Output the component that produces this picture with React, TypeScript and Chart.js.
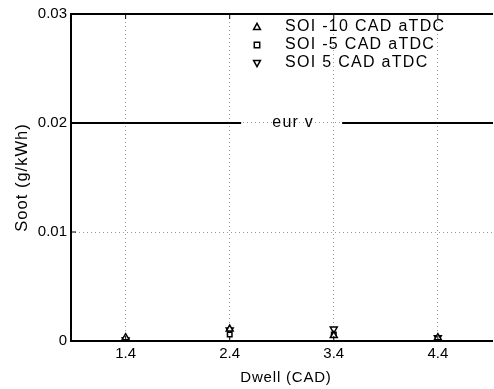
import React, { useEffect, useRef } from "react";
import { Chart, registerables } from "chart.js";

Chart.register(...registerables);

const dwell = [1.4, 2.4, 3.4, 4.4];
const soiMinus10 = [0.0003, 0.0011, 0.0005, 0.0003];
const soiMinus5 = [0.0001, 0.0006, 0.0006, 0.0002];
const soiPlus5 = [0.0001, 0.001, 0.0011, 0.0003];
const seriesLabels = ["SOI -10 CAD aTDC", "SOI -5 CAD aTDC", "SOI 5 CAD aTDC"];
const xTicks = [1.4, 2.4, 3.4, 4.4];
const yTicks = [0, 0.01, 0.02, 0.03];
const yTickLabels = ["0", "0.01", "0.02", "0.03"];
const xTitle = "Dwell (CAD)";
const yTitle = "Soot (g/kWh)";
const euroLimit = 0.02;
const euroLabel = "eur v";
const euroLabelAt = 3.0;

const FONT = "'Liberation Sans', Arial, sans-serif";

function drawMarker(ctx: CanvasRenderingContext2D, style: string, rot: number, x: number, y: number, r: number) {
  ctx.save();
  ctx.translate(x, y);
  ctx.rotate((rot * Math.PI) / 180);
  ctx.beginPath();
  if (style === "rect") {
    const h = r * 0.75;
    ctx.rect(-h, -h, 2 * h, 2 * h);
  } else {
    ctx.moveTo(0, -r);
    ctx.lineTo(r * 0.95, r * 0.7);
    ctx.lineTo(-r * 0.95, r * 0.7);
    ctx.closePath();
  }
  ctx.fill();
  ctx.stroke();
  ctx.restore();
}

const areaPlugin = {
  id: "area",
  afterLayout(chart: any) {
    const x = chart.scales.x;
    x.right = 493;
    x.width = x.right - x.left;
    x.configure();
    chart.chartArea.right = 493;
    chart.chartArea.width = 493 - chart.chartArea.left;
  },
};

const framePlugin = {
  id: "frame",
  afterDatasetsDraw(chart: any) {
    const { ctx, chartArea: a, scales } = chart;
    const xs = scales.x;
    const ys = scales.y;
    ctx.save();
    // euro limit line with gap for label
    const yp = ys.getPixelForValue(euroLimit);
    const cx = xs.getPixelForValue(euroLabelAt);
    ctx.strokeStyle = "#000";
    ctx.lineWidth = 2;
    ctx.beginPath();
    ctx.moveTo(a.left, yp);
    ctx.lineTo(cx - 51, yp);
    ctx.moveTo(cx + 50, yp);
    ctx.lineTo(a.right, yp);
    ctx.stroke();
    ctx.fillStyle = "#000";
    ctx.font = `16px ${FONT}`;
    (ctx as any).letterSpacing = "1.2px";
    ctx.textAlign = "center";
    ctx.textBaseline = "middle";
    ctx.fillText(euroLabel, cx + 1, yp);

    // axis titles
    ctx.font = `15px ${FONT}`;
    (ctx as any).letterSpacing = "0.8px";
    ctx.fillText(xTitle, 286, 378);
    ctx.save();
    ctx.translate(22, (a.top + a.bottom) / 2);
    ctx.rotate(-Math.PI / 2);
    ctx.font = `16.5px ${FONT}`;
    (ctx as any).letterSpacing = "1px";
    ctx.fillText(yTitle, 0, 0);
    ctx.restore();

    // inward ticks
    ctx.lineWidth = 1;
    ctx.beginPath();
    xTicks.forEach((v) => {
      const px = xs.getPixelForValue(v);
      ctx.moveTo(px, a.top);
      ctx.lineTo(px, a.top + 5);
      ctx.moveTo(px, a.bottom);
      ctx.lineTo(px, a.bottom - 5);
    });
    yTicks.forEach((v) => {
      const py = ys.getPixelForValue(v);
      ctx.moveTo(a.left, py);
      ctx.lineTo(a.left + 5, py);
    });
    ctx.stroke();

    // frame
    ctx.lineWidth = 2;
    ctx.beginPath();
    ctx.moveTo(a.right, a.top);
    ctx.lineTo(a.left, a.top);
    ctx.lineTo(a.left, a.bottom);
    ctx.lineTo(a.right, a.bottom);
    ctx.stroke();

    // legend
    const styles = [
      { s: "triangle", r: 0 },
      { s: "rect", r: 0 },
      { s: "triangle", r: 180 },
    ];
    ctx.font = `16px ${FONT}`;
    (ctx as any).letterSpacing = "1.3px";
    ctx.textAlign = "left";
    ctx.textBaseline = "middle";
    seriesLabels.forEach((lab, i) => {
      const y = 27 + i * 18;
      ctx.fillStyle = "#fff";
      ctx.strokeStyle = "#000";
      ctx.lineWidth = 1.5;
      drawMarker(ctx, styles[i].s, styles[i].r, 257, y, 3.6);
      ctx.fillStyle = "#000";
      ctx.fillText(lab, 285, y);
    });
    (ctx as any).letterSpacing = "0px";
    ctx.restore();
  },
};

export default function App() {
  const ref = useRef<HTMLCanvasElement>(null);
  useEffect(() => {
    document.body.style.margin = "0";
    const mk = (vals: number[]) => dwell.map((x, i) => ({ x, y: vals[i] }));
    const common = {
      borderColor: "#000",
      backgroundColor: "#fff",
      borderWidth: 1.5,
      pointRadius: 4,
      showLine: false,
    };
    const chart = new Chart(ref.current!, {
      type: "scatter",
      data: {
        datasets: [
          { ...common, label: seriesLabels[0], data: mk(soiMinus10), pointStyle: "triangle" },
          { ...common, label: seriesLabels[1], data: mk(soiMinus5), pointStyle: "rect", pointRadius: 3.2 },
          { ...common, label: seriesLabels[2], data: mk(soiPlus5), pointStyle: "triangle", rotation: 180 },
        ],
      },
      options: {
        animation: false,
        responsive: false,
        layout: { padding: { top: 14, right: 1, left: 0, bottom: 0 } },
        plugins: { legend: { display: false }, tooltip: { enabled: false } },
        scales: {
          x: {
            type: "linear",
            min: 0.875,
            max: 4.93,
            afterBuildTicks: (s: any) => {
              s.ticks = xTicks.map((v) => ({ value: v }));
            },
            afterFit: (s: any) => {
              s.height = 48;
            },
            ticks: {
              color: "#000",
              font: { family: FONT, size: 15 },
              padding: 4,
              callback: (v: any) => String(v),
            },
            grid: { color: "#999", lineWidth: 1, drawTicks: false },
            border: { display: false, dash: [1, 3] },
          },
          y: {
            min: 0,
            max: 0.03,
            afterBuildTicks: (s: any) => {
              s.ticks = yTicks.map((v) => ({ value: v }));
            },
            afterFit: (s: any) => {
              s.width = 71;
            },
            ticks: {
              color: "#000",
              font: { family: FONT, size: 15 },
              padding: 4,
              callback: (v: any) => {
                const i = yTicks.findIndex((t) => Math.abs(t - v) < 1e-9);
                return i >= 0 ? yTickLabels[i] : "";
              },
            },
            grid: { color: "#999", lineWidth: 1, drawTicks: false },
            border: { display: false, dash: [1, 3] },
          },
        },
      },
      plugins: [areaPlugin, framePlugin],
    } as any);
    return () => chart.destroy();
  }, []);
  return <canvas ref={ref} width={494} height={389} style={{ display: "block" }} />;
}
